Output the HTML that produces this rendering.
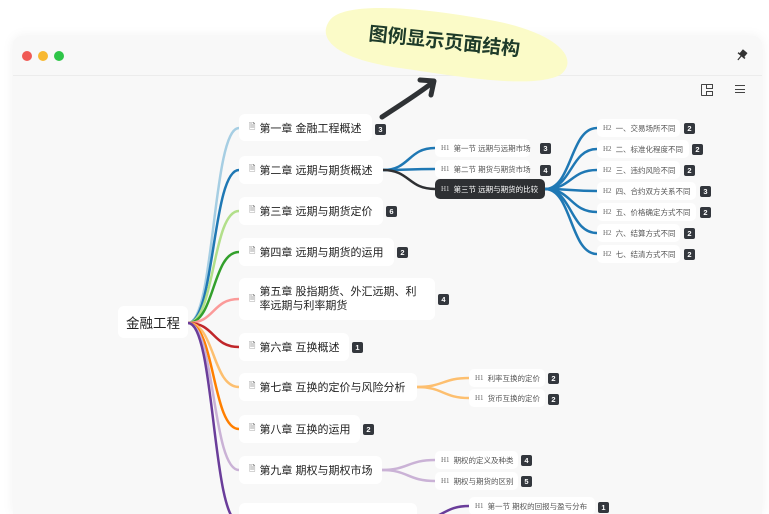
<!DOCTYPE html>
<html style="width:769px;height:514px;overflow:hidden"><head><meta charset="utf-8"><style>
*{margin:0;padding:0;box-sizing:border-box}
body{width:769px;height:514px;overflow:hidden;background:#fff;font-family:"Liberation Sans","Noto Sans CJK SC",sans-serif;position:relative}
.win{position:absolute;left:13px;top:36px;width:749px;height:478px;background:#f8f8f8;border-radius:9px 9px 0 0;box-shadow:0 0 12px rgba(0,0,0,.06)}
.bar{position:absolute;left:13px;top:75px;width:749px;height:1px;background:#ececec}
.dot{position:absolute;top:51px;width:10px;height:10px;border-radius:50%}
.n{position:absolute;background:#fff;border-radius:6px;color:#222;font-size:11px;display:flex;align-items:center;padding-left:10px;white-space:nowrap}
.n .ic{font-size:8px;color:#555;margin-right:4px}
.s{position:absolute;background:#fff;border-radius:5px;color:#555;font-size:7.5px;display:flex;align-items:center;padding-left:6px;white-space:nowrap;height:18px}
.s b{font-weight:normal;font-family:"Liberation Serif",serif;font-size:7px;margin-right:4px;color:#666}
.dk{background:#2e3033;color:#fff}
.dk b{color:#ddd}
.bd{position:absolute;background:#33373d;color:#fff;font-size:7.5px;font-weight:bold;width:11px;height:11px;border-radius:2px;display:flex;align-items:center;justify-content:center}
svg{position:absolute;left:0;top:0}
</style></head><body>
<div class="win"></div>
<div class="bar"></div>
<div class="dot" style="left:22px;background:#f05a55"></div>
<div class="dot" style="left:38px;background:#f8b830"></div>
<div class="dot" style="left:54px;background:#2ec548"></div>
<div style="position:absolute;left:735px;top:85px;width:10px;height:8px;border-top:1.5px solid #444;border-bottom:1.5px solid #444"></div>
<div style="position:absolute;left:735px;top:88.5px;width:10px;height:1.5px;background:#444"></div>
<div style="position:absolute;left:701px;top:84px;width:12px;height:12px;border:1.2px solid #444;border-right:none;border-radius:1px"></div>
<div style="position:absolute;left:706px;top:84px;width:7px;height:5px;border:1.2px solid #444"></div>
<div style="position:absolute;left:706px;top:91px;width:7px;height:5px;border:1.2px solid #444;background:#f8f8f8"></div>

<svg width="769" height="514" fill="none" stroke-linecap="round">
<g transform="translate(742 55) rotate(40)"><rect x="-3" y="-5" width="6" height="6" fill="#333"/><rect x="-4.5" y="0" width="9" height="1.5" fill="#333"/><path d="M0 1 L0 6" stroke="#333" stroke-width="1.2"/></g>
<g stroke-width="2.5">
<path d="M188 323 C215 323,212 128,239 128" stroke="#a6cee3"/>
<path d="M188 323 C215 323,212 170,239 170" stroke="#1f78b4"/>
<path d="M188 323 C215 323,212 211,239 211" stroke="#b2df8a"/>
<path d="M188 323 C215 323,212 252,239 252" stroke="#33a02c"/>
<path d="M188 323 C215 323,212 299,239 299" stroke="#fb9a99"/>
<path d="M188 323 C215 323,212 347,239 347" stroke="#c0262a"/>
<path d="M188 323 C215 323,212 387,239 387" stroke="#fdbf6f"/>
<path d="M188 323 C215 323,212 429,239 429" stroke="#ff7f00"/>
<path d="M188 323 C215 323,212 470,239 470" stroke="#cab2d6"/>
<path d="M188 323 C215 323,212 522,239 522" stroke="#6a3d9a"/>
<path d="M383 170 C410 170,408 148,435 148" stroke="#1f78b4"/>
<path d="M383 170 C410 170,408 169,435 169" stroke="#1f78b4"/>
<path d="M383 170 C410 170,408 189,435 189" stroke="#2e3033"/>
<path d="M417 387 C443 387,443 378,469 378" stroke="#fdbf6f"/>
<path d="M417 387 C443 387,443 398,469 398" stroke="#fdbf6f"/>
<path d="M382 470 C408 470,408 460,435 460" stroke="#cab2d6"/>
<path d="M382 470 C408 470,408 481,435 481" stroke="#cab2d6"/>
<path d="M417 520 C443 520,443 506,469 506" stroke="#6a3d9a"/>
<path d="M545 189 C572 189,570 128,597 128" stroke="#1f78b4"/>
<path d="M545 189 C572 189,570 149,597 149" stroke="#1f78b4"/>
<path d="M545 189 C572 189,570 170,597 170" stroke="#1f78b4"/>
<path d="M545 189 C572 189,570 191,597 191" stroke="#1f78b4"/>
<path d="M545 189 C572 189,570 212,597 212" stroke="#1f78b4"/>
<path d="M545 189 C572 189,570 233,597 233" stroke="#1f78b4"/>
<path d="M545 189 C572 189,570 254,597 254" stroke="#1f78b4"/>
</g>
<path d="M382 117 C400 105,415 96,432 83" stroke="#2f3235" stroke-width="5"/>
<path d="M420 80 L434 81 L431 95" stroke="#2f3235" stroke-width="5" stroke-linejoin="round"/>
<path d="M330 20 C345 0,430 8,500 22 C560 35,580 60,560 75 C530 90,450 75,400 68 C340 60,315 40,330 20Z" fill="#fbfbc8" stroke="none"/>
<text x="368" y="48" font-family="Liberation Sans,Noto Sans CJK SC,sans-serif" font-size="19" font-weight="bold" fill="#1e3b2a" transform="rotate(6 445 45)">图例显示页面结构</text>
</svg>

<div class="n" style="left:118px;top:306px;width:70px;height:32px;font-size:13.5px;padding-left:8px">金融工程</div>

<div class="n" style="left:239px;top:114px;width:133px;height:27px"><span class="ic">🗎</span>第一章 金融工程概述</div><div class="bd" style="left:375px;top:124px">3</div>
<div class="n" style="left:239px;top:156px;width:144px;height:28px"><span class="ic">🗎</span>第二章 远期与期货概述</div>
<div class="n" style="left:239px;top:197px;width:144px;height:28px"><span class="ic">🗎</span>第三章 远期与期货定价</div><div class="bd" style="left:386px;top:206px">6</div>
<div class="n" style="left:239px;top:238px;width:155px;height:28px"><span class="ic">🗎</span>第四章 远期与期货的运用</div><div class="bd" style="left:397px;top:247px">2</div>
<div class="n" style="left:239px;top:278px;width:196px;height:42px;white-space:normal;line-height:14px"><span class="ic">🗎</span><span>第五章 股指期货、外汇远期、利<br>率远期与利率期货</span></div><div class="bd" style="left:438px;top:294px">4</div>
<div class="n" style="left:239px;top:333px;width:110px;height:28px"><span class="ic">🗎</span>第六章 互换概述</div><div class="bd" style="left:352px;top:342px">1</div>
<div class="n" style="left:239px;top:373px;width:178px;height:28px"><span class="ic">🗎</span>第七章 互换的定价与风险分析</div>
<div class="n" style="left:239px;top:415px;width:121px;height:28px"><span class="ic">🗎</span>第八章 互换的运用</div><div class="bd" style="left:363px;top:424px">2</div>
<div class="n" style="left:239px;top:456px;width:143px;height:28px"><span class="ic">🗎</span>第九章 期权与期权市场</div>
<div class="n" style="left:239px;top:503px;width:178px;height:34px"><span class="ic">🗎</span>第十章 期权的回报与盈亏分布</div>

<div class="s" style="left:435px;top:139px;width:95px"><b>H1</b>第一节 远期与远期市场</div><div class="bd" style="left:540px;top:143px">3</div>
<div class="s" style="left:435px;top:160px;width:95px"><b>H1</b>第二节 期货与期货市场</div><div class="bd" style="left:540px;top:165px">4</div>
<div class="s dk" style="left:435px;top:179px;width:110px;height:20px"><b>H1</b>第三节 远期与期货的比较</div>

<div class="s" style="left:597px;top:119px;width:83px"><b>H2</b>一、交易场所不同</div><div class="bd" style="left:684px;top:123px">2</div>
<div class="s" style="left:597px;top:140px;width:92px"><b>H2</b>二、标准化程度不同</div><div class="bd" style="left:692px;top:144px">2</div>
<div class="s" style="left:597px;top:161px;width:83px"><b>H2</b>三、违约风险不同</div><div class="bd" style="left:684px;top:165px">2</div>
<div class="s" style="left:597px;top:182px;width:99px"><b>H2</b>四、合约双方关系不同</div><div class="bd" style="left:700px;top:186px">3</div>
<div class="s" style="left:597px;top:203px;width:99px"><b>H2</b>五、价格确定方式不同</div><div class="bd" style="left:700px;top:207px">2</div>
<div class="s" style="left:597px;top:224px;width:83px"><b>H2</b>六、结算方式不同</div><div class="bd" style="left:684px;top:228px">2</div>
<div class="s" style="left:597px;top:245px;width:83px"><b>H2</b>七、结清方式不同</div><div class="bd" style="left:684px;top:249px">2</div>

<div class="s" style="left:469px;top:369px;width:76px"><b>H1</b>利率互换的定价</div><div class="bd" style="left:548px;top:373px">2</div>
<div class="s" style="left:469px;top:389px;width:76px"><b>H1</b>货币互换的定价</div><div class="bd" style="left:548px;top:394px">2</div>
<div class="s" style="left:435px;top:451px;width:83px"><b>H1</b>期权的定义及种类</div><div class="bd" style="left:521px;top:455px">4</div>
<div class="s" style="left:435px;top:472px;width:83px"><b>H1</b>期权与期货的区别</div><div class="bd" style="left:521px;top:476px">5</div>
<div class="s" style="left:469px;top:497px;width:126px"><b>H1</b>第一节 期权的回报与盈亏分布</div><div class="bd" style="left:598px;top:502px">1</div>
</body></html>
